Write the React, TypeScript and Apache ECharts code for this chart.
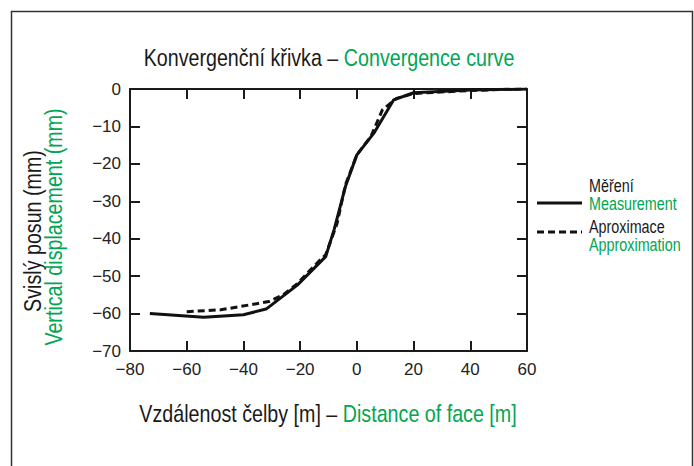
import React, { useEffect, useRef } from "react";
import * as echarts from "echarts";

const xTicks = { min: -80, max: 60, interval: 20 };
const yTicks = { min: -70, max: 0, interval: 10 };

const measurementX = [-73, -54, -40, -32, -21, -11, -8, -4, 0, 6, 13, 20, 40, 60];
const measurementY = [-60, -61, -60.3, -58.8, -52.4, -44.8, -37.5, -26, -17.6, -11.8, -2.9, -1, -0.3, 0];

const approxX = [-60, -48, -31, -26, -21, -13, -11, -7, -4, 0, 5, 9, 14, 20, 40, 52, 60];
const approxY = [-59.5, -59, -56.8, -55, -52, -45.7, -44.3, -36, -25.5, -17.6, -12.6, -5.6, -2.5, -1.2, -0.4, -0.1, 0];

const titleCz = "Konvergenční křivka – ";
const titleEn = "Convergence curve";
const xNameCz = "Vzdálenost čelby [m] – ";
const xNameEn = "Distance of face [m]";
const yNameCz = "Svislý posun (mm)";
const yNameEn = "Vertical displacement (mm)";
const legendCz = ["Měření", "Aproximace"];
const legendEn = ["Measurement", "Approximation"];

const FONT = "'Liberation Sans', Arial, sans-serif";
const GREEN = "#00a651";
const DARK = "#1a1a1a";
const NARROW = 0.82;

const minus = (v: number) => String(v).replace("-", "\u2212");

const twoTone = (size: number) => ({
  a: { font: `${size}px ${FONT}`, fill: DARK },
  b: { font: `${size}px ${FONT}`, fill: GREEN },
});

export default function App() {
  const ref = useRef<HTMLDivElement>(null);
  useEffect(() => {
    document.body.style.margin = "0";
    if (!ref.current) return;
    const chart = echarts.init(ref.current, undefined, { renderer: "svg" });
    const axisLine = { show: true, onZero: false, lineStyle: { color: DARK, width: 2 } };
    const tick = { show: true, inside: true, length: 10, lineStyle: { color: DARK, width: 2 } };
    const legendText = (text: string, y: number, color: string) => ({
      type: "text",
      x: 589,
      y,
      scaleX: NARROW,
      style: { text, font: `17.5px ${FONT}`, fill: color, verticalAlign: "middle", align: "left" },
    });
    chart.setOption({
      animation: false,
      backgroundColor: "#ffffff",
      textStyle: { fontFamily: FONT },
      grid: { left: 130, right: 167, top: 89, bottom: 115, containLabel: false },
      xAxis: [
        {
          type: "value",
          ...xTicks,
          axisLine,
          axisTick: tick,
          splitLine: { show: false },
          axisLabel: { fontFamily: FONT, fontSize: 17, color: "#222", margin: 10, formatter: minus },
        },
        {
          type: "value",
          position: "top",
          ...xTicks,
          axisLine,
          axisTick: tick,
          splitLine: { show: false },
          axisLabel: { show: false },
        },
      ],
      yAxis: [
        {
          type: "value",
          ...yTicks,
          axisLine,
          axisTick: tick,
          splitLine: { show: false },
          axisLabel: { fontFamily: FONT, fontSize: 17, color: "#222", margin: 9, formatter: minus },
        },
        {
          type: "value",
          position: "right",
          ...yTicks,
          axisLine,
          axisTick: tick,
          splitLine: { show: false },
          axisLabel: { show: false },
        },
      ],
      series: [
        {
          name: legendEn[0],
          type: "line",
          data: measurementX.map((x, i) => [x, measurementY[i]]),
          showSymbol: false,
          lineStyle: { color: "#111", width: 3 },
        },
        {
          name: legendEn[1],
          type: "line",
          data: approxX.map((x, i) => [x, approxY[i]]),
          showSymbol: false,
          lineStyle: { color: "#111", width: 3, type: [7, 4] },
        },
      ],
      graphic: [
        {
          type: "rect",
          shape: { x: 11.5, y: 11.5, width: 681, height: 480 },
          style: { fill: "none", stroke: "#333", lineWidth: 1.5 },
          silent: true,
        },
        {
          type: "text",
          x: 329,
          y: 58,
          scaleX: NARROW,
          style: {
            text: `{a|${titleCz}}{b|${titleEn}}`,
            rich: twoTone(24),
            align: "center",
            verticalAlign: "middle",
          },
        },
        {
          type: "text",
          x: 328,
          y: 414,
          scaleX: NARROW,
          style: {
            text: `{a|${xNameCz}}{b|${xNameEn}}`,
            rich: twoTone(24),
            align: "center",
            verticalAlign: "middle",
          },
        },
        {
          type: "text",
          x: 33,
          y: 231,
          rotation: Math.PI / 2,
          scaleX: NARROW,
          style: {
            text: yNameCz,
            font: `24px ${FONT}`,
            fill: DARK,
            align: "center",
            verticalAlign: "middle",
          },
        },
        {
          type: "text",
          x: 54,
          y: 227,
          rotation: Math.PI / 2,
          scaleX: NARROW,
          style: {
            text: yNameEn,
            font: `24px ${FONT}`,
            fill: GREEN,
            align: "center",
            verticalAlign: "middle",
          },
        },
        {
          type: "line",
          shape: { x1: 537, y1: 203, x2: 582, y2: 203 },
          style: { stroke: "#111", lineWidth: 3 },
        },
        {
          type: "line",
          shape: { x1: 537, y1: 232, x2: 582, y2: 232 },
          style: { stroke: "#111", lineWidth: 3, lineDash: [7, 4] },
        },
        legendText(legendCz[0], 186, DARK),
        legendText(legendEn[0], 204, GREEN),
        legendText(legendCz[1], 227, DARK),
        legendText(legendEn[1], 245, GREEN),
      ],
    });
    return () => chart.dispose();
  }, []);
  return <div ref={ref} style={{ width: 694, height: 466 }} />;
}
